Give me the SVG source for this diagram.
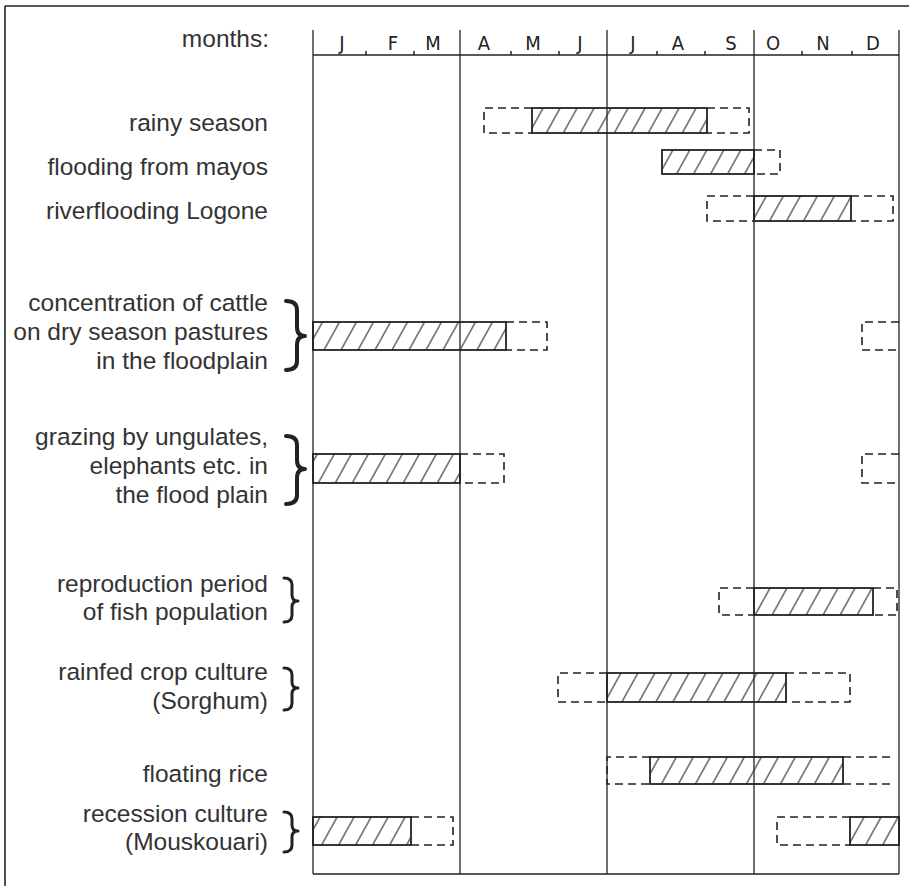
<svg xmlns="http://www.w3.org/2000/svg" width="909" height="893" viewBox="0 0 909 893">
<defs>
<pattern id="hatch" patternUnits="userSpaceOnUse" width="17" height="30" patternTransform="skewX(-29)">
<line x1="8" y1="-1" x2="8" y2="31" stroke="#333" stroke-width="1.3"/>
</pattern>
<style>
.frame{fill:none;stroke:#222;stroke-width:1.6}
.grid{fill:none;stroke:#222;stroke-width:1.3}
.tick{fill:none;stroke:#222;stroke-width:1.5}
.bar{fill:url(#hatch);stroke:#222;stroke-width:1.8}
.ext{fill:none;stroke:#222;stroke-width:1.6;stroke-dasharray:8 5}
.lbl{font-family:"Liberation Sans",Arial,sans-serif;font-size:24.5px;fill:#333;text-anchor:end}
.mon{font-family:"DejaVu Sans Condensed","DejaVu Sans",sans-serif;font-size:20px;fill:#222;text-anchor:middle}
.brace{fill:none;stroke:#222;stroke-width:4;stroke-linecap:round;stroke-linejoin:round}
.brace2{fill:none;stroke:#222;stroke-width:3;stroke-linecap:round;stroke-linejoin:round}
</style>
</defs>
<rect width="909" height="893" fill="#fff"/>

<g id="frame">
<line class="frame" x1="5" y1="6" x2="909" y2="6"/>
<line class="frame" x1="5" y1="6" x2="5" y2="886"/>
<line class="frame" x1="313" y1="874" x2="899" y2="874"/>
</g>

<g id="axis">
<line class="grid" x1="313" y1="30" x2="313" y2="874"/>
<line class="grid" x1="460" y1="30" x2="460" y2="874"/>
<line class="grid" x1="607" y1="30" x2="607" y2="874"/>
<line class="grid" x1="754" y1="30" x2="754" y2="874"/>
<line class="grid" x1="899" y1="30" x2="899" y2="874"/>
<line class="grid" x1="313" y1="55" x2="899" y2="55"/>
<path class="tick" d="M366,51V55M414,51V55M511,51V55M559,51V55M657,51V55M705,51V55M802,51V55M852,51V55"/>
<text class="lbl" x="269" y="47">months:</text>
<text class="mon" x="342" y="50">J</text>
<text class="mon" x="393" y="50">F</text>
<text class="mon" x="433" y="50">M</text>
<text class="mon" x="484" y="50">A</text>
<text class="mon" x="533" y="50">M</text>
<text class="mon" x="580" y="50">J</text>
<text class="mon" x="633" y="50">J</text>
<text class="mon" x="678" y="50">A</text>
<text class="mon" x="731" y="50">S</text>
<text class="mon" x="773" y="50">O</text>
<text class="mon" x="823" y="50">N</text>
<text class="mon" x="873" y="50">D</text>
</g>

<g id="rainy-season">
<text class="lbl" x="268" y="131">rainy season</text>
<path class="ext" d="M532,108H484V133H532M707,108H749V133H707"/>
<rect class="bar" x="532" y="108" width="175" height="25"/>
</g>

<g id="flooding-mayos">
<text class="lbl" x="268" y="175">flooding from mayos</text>
<path class="ext" d="M754,150H780V174H754"/>
<rect class="bar" x="662" y="150" width="92" height="24"/>
</g>

<g id="riverflooding">
<text class="lbl" x="268" y="219">riverflooding Logone</text>
<path class="ext" d="M754,196H707V221H754M851,196H893V221H851"/>
<rect class="bar" x="754" y="196" width="97" height="25"/>
</g>

<g id="cattle">
<text class="lbl" x="268" y="311">concentration of cattle</text>
<text class="lbl" x="268" y="340">on dry season pastures</text>
<text class="lbl" x="268" y="369">in the floodplain</text>
<path class="brace" d="M286,301Q297,301 297,310L297,327Q297,336 305,336Q297,336 297,345L297,361Q297,370 286,370"/>
<path class="ext" d="M506,322H547V350H506M899,322H862V350H899"/>
<rect class="bar" x="313" y="322" width="193" height="28"/>
</g>

<g id="grazing">
<text class="lbl" x="268" y="445">grazing by ungulates,</text>
<text class="lbl" x="268" y="474">elephants etc. in</text>
<text class="lbl" x="268" y="503">the flood plain</text>
<path class="brace" d="M286,436Q297,436 297,445L297,460Q297,469 305,469Q297,469 297,478L297,495Q297,504 286,504"/>
<path class="ext" d="M460,454H504V483H460M899,454H862V483H899"/>
<rect class="bar" x="313" y="454" width="147" height="29"/>
</g>

<g id="fish-reproduction">
<text class="lbl" x="268" y="592">reproduction period</text>
<text class="lbl" x="268" y="620">of fish population</text>
<path class="brace2" d="M284,578Q292,578 292,585L292,595Q292,601 298,601Q292,601 292,607L292,615Q292,622 284,622"/>
<path class="ext" d="M754,588H719V615H754M873,588H897V615H873"/>
<rect class="bar" x="754" y="588" width="119" height="27"/>
</g>

<g id="rainfed-crop">
<text class="lbl" x="268" y="680">rainfed crop culture</text>
<text class="lbl" x="268" y="709">(Sorghum)</text>
<path class="brace2" d="M284,668Q292,668 292,675L292,682Q292,688 298,688Q292,688 292,694L292,703Q292,710 284,710"/>
<path class="ext" d="M607,673H558V702H607M786,673H850V702H786"/>
<rect class="bar" x="607" y="673" width="179" height="29"/>
</g>

<g id="floating-rice">
<text class="lbl" x="268" y="782">floating rice</text>
<path class="ext" d="M650,757H607V784H650M843,757H893M843,784H893"/>
<rect class="bar" x="650" y="757" width="193" height="27"/>
</g>

<g id="recession-culture">
<text class="lbl" x="268" y="822">recession culture</text>
<text class="lbl" x="268" y="850">(Mouskouari)</text>
<path class="brace2" d="M284,812Q292,812 292,819L292,825Q292,831 298,831Q292,831 292,837L292,845Q292,852 284,852"/>
<path class="ext" d="M411,817H453V845H411M850,817H777V845H850"/>
<rect class="bar" x="313" y="817" width="98" height="28"/>
<rect class="bar" x="850" y="817" width="49" height="28"/>
</g>

<g id="connectors"></g>
</svg>
